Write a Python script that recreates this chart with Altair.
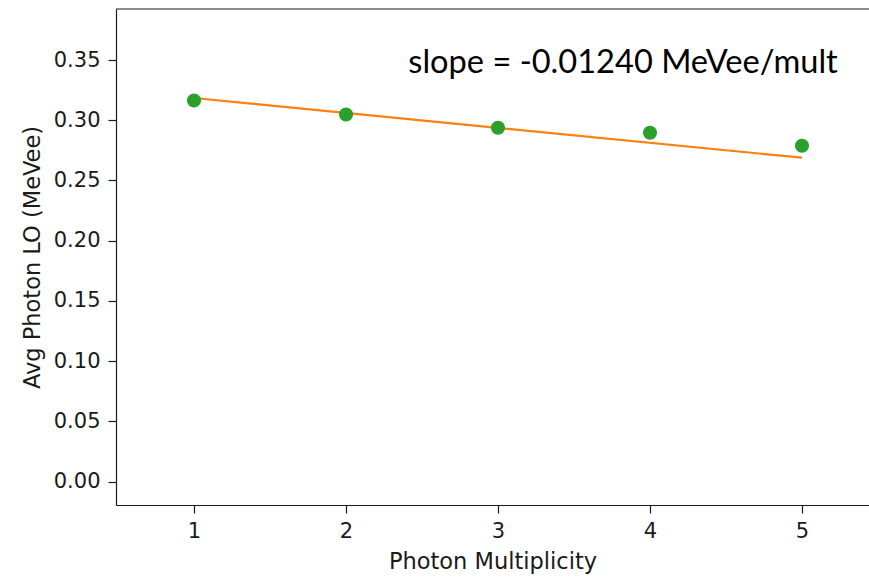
import altair as alt
import pandas as pd

# Data
multiplicity = [1, 2, 3, 4, 5]
avg_lo = [0.3164, 0.3048, 0.2938, 0.2896, 0.2788]
fit_x = [1, 5]
fit_y = [0.3185, 0.2689]
slope_label = "slope = -0.01240 MeVee/mult"

pts = pd.DataFrame({"x": multiplicity, "y": avg_lo})
fit = pd.DataFrame({"x": fit_x, "y": fit_y})

W, H = 753, 496
xs = alt.Scale(domain=[0.4868, 5.4408], nice=False, zero=False)
ys = alt.Scale(domain=[-0.0195, 0.3924], nice=False, zero=False)

FONT = "DejaVu Sans"
LFS = 21
TFS = 22.5
INK = "#1a1a1a"

x_axis = alt.Axis(values=[1, 2, 3, 4, 5], format="d", title="Photon Multiplicity",
                  grid=False, tickSize=8, tickColor=INK, domainColor=INK,
                  labelFont=FONT, labelFontSize=LFS, labelColor=INK, labelPadding=7,
                  titleFont=FONT, titleFontSize=TFS, titleFontWeight="normal",
                  titleColor=INK, titlePadding=9)
y_axis = alt.Axis(values=[0, 0.05, 0.1, 0.15, 0.2, 0.25, 0.3, 0.35], format=".2f",
                  title="Avg Photon LO (MeVee)", grid=False, tickSize=8,
                  tickColor=INK, domainColor=INK,
                  labelFont=FONT, labelFontSize=LFS, labelColor=INK, labelPadding=8,
                  titleFont=FONT, titleFontSize=TFS, titleFontWeight="normal",
                  titleColor=INK, titlePadding=9)

line = alt.Chart(fit).mark_line(color="#ff7f0e", strokeWidth=2.2).encode(
    x=alt.X("x:Q", scale=xs, axis=x_axis),
    y=alt.Y("y:Q", scale=ys, axis=y_axis),
)
points = alt.Chart(pts).mark_circle(color="#2ca02c", opacity=1, size=200).encode(
    x=alt.X("x:Q", scale=xs),
    y=alt.Y("y:Q", scale=ys),
)
label = alt.Chart(pd.DataFrame({"t": [slope_label]})).mark_text(
    align="left", baseline="alphabetic", font="Lato", fontSize=32.6, color="#000"
).encode(
    x=alt.datum(2.41), y=alt.datum(0.339), text="t:N"
)
top = alt.Chart(pd.DataFrame({"a": [0]})).mark_rule(color=INK, strokeWidth=1.2).encode(
    x=alt.value(0), x2=alt.value(W), y=alt.value(0)
)

chart = alt.layer(line, points, label, top).properties(
    width=W, height=H,
    autosize=alt.AutoSizeParams(type="none"),
    padding={"left": 116, "top": 9, "right": 0, "bottom": 72},
).configure_view(stroke=None).configure_axis(domainWidth=1.2, tickWidth=1.2)

chart.save("out.html", embed_options={"renderer": "svg", "actions": False})
